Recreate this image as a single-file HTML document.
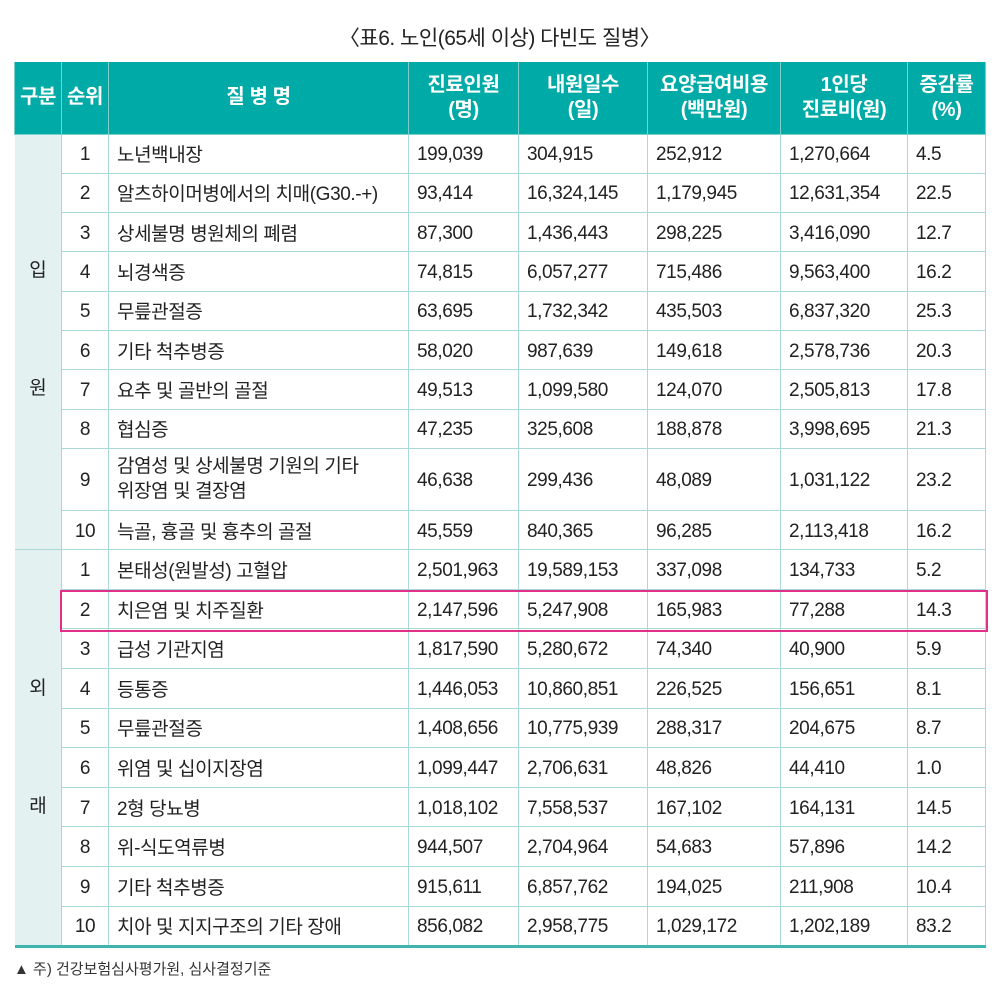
<!DOCTYPE html>
<html><head><meta charset="utf-8"><style>
body{margin:0;background:#fff;width:999px;height:988px;position:relative;overflow:hidden;font-family:"Liberation Sans","Noto Sans CJK KR",sans-serif;color:#222}
.title{position:absolute;top:22px;left:0;width:999px;text-align:center;font-size:21px;letter-spacing:-0.5px}
table{position:absolute;left:14px;top:62px;width:971px;border-collapse:collapse;table-layout:fixed;font-size:19px;letter-spacing:-0.4px}
td,th{border:1.5px solid #a9d9d6;padding:0 0 0 8px;text-align:left;white-space:nowrap;vertical-align:middle}
th{background:#00aba7;color:#fff;font-weight:bold;text-align:center;padding:0;font-size:20px;line-height:25px;border-color:#7ccfcb;border-top:none}
td.r{text-align:center;padding:3px 0 0 0}
td.g{background:#e3f1f0;text-align:center;padding:0;border-left:none;line-height:118px}
tr td:nth-last-child(-n+5){padding-top:3px}
tr.b td{height:35.3px}
tr.c td{height:35.6px}
.hl{position:absolute;left:60px;top:590px;width:924px;height:38px;border:2px solid #e0308a}
.foot{position:absolute;left:14px;top:958px;font-size:15px;color:#333}
</style></head><body>
<div class="title">〈표6. 노인(65세 이상) 다빈도 질병〉</div>
<table>
<colgroup><col style="width:47px"><col style="width:47px"><col style="width:300px"><col style="width:110px"><col style="width:129px"><col style="width:133px"><col style="width:127px"><col style="width:78px"></colgroup>
<tr style="height:72px"><th>구분</th><th>순위</th><th>질 병 명</th><th>진료인원<br>(명)</th><th>내원일수<br>(일)</th><th>요양급여비용<br>(백만원)</th><th>1인당<br>진료비(원)</th><th>증감률<br>(%)</th></tr>
<tr class="b"><td class="g" rowspan="10" style="padding-bottom:24px">입<br>원</td><td class="r">1</td><td>노년백내장</td><td>199,039</td><td>304,915</td><td>252,912</td><td>1,270,664</td><td>4.5</td></tr>
<tr class="b"><td class="r">2</td><td>알츠하이머병에서의 치매(G30.-+)</td><td>93,414</td><td>16,324,145</td><td>1,179,945</td><td>12,631,354</td><td>22.5</td></tr>
<tr class="b"><td class="r">3</td><td>상세불명 병원체의 폐렴</td><td>87,300</td><td>1,436,443</td><td>298,225</td><td>3,416,090</td><td>12.7</td></tr>
<tr class="b"><td class="r">4</td><td>뇌경색증</td><td>74,815</td><td>6,057,277</td><td>715,486</td><td>9,563,400</td><td>16.2</td></tr>
<tr class="b"><td class="r">5</td><td>무릎관절증</td><td>63,695</td><td>1,732,342</td><td>435,503</td><td>6,837,320</td><td>25.3</td></tr>
<tr class="b"><td class="r">6</td><td>기타 척추병증</td><td>58,020</td><td>987,639</td><td>149,618</td><td>2,578,736</td><td>20.3</td></tr>
<tr class="b"><td class="r">7</td><td>요추 및 골반의 골절</td><td>49,513</td><td>1,099,580</td><td>124,070</td><td>2,505,813</td><td>17.8</td></tr>
<tr class="b"><td class="r">8</td><td>협심증</td><td>47,235</td><td>325,608</td><td>188,878</td><td>3,998,695</td><td>21.3</td></tr>
<tr style="height:62px"><td class="r">9</td><td style="line-height:25px">감염성 및 상세불명 기원의 기타<br>위장염 및 결장염</td><td>46,638</td><td>299,436</td><td>48,089</td><td>1,031,122</td><td>23.2</td></tr>
<tr class="b" style="border-bottom:1.5px solid #6cc6c2"><td class="r">10</td><td>늑골, 흉골 및 흉추의 골절</td><td>45,559</td><td>840,365</td><td>96,285</td><td>2,113,418</td><td>16.2</td></tr>
<tr class="c"><td class="g" rowspan="10" style="border-top:1.5px solid #6cc6c2;border-bottom:3px solid #3fb4b0">외<br>래</td><td class="r">1</td><td>본태성(원발성) 고혈압</td><td>2,501,963</td><td>19,589,153</td><td>337,098</td><td>134,733</td><td>5.2</td></tr>
<tr class="c"><td class="r">2</td><td>치은염 및 치주질환</td><td>2,147,596</td><td>5,247,908</td><td>165,983</td><td>77,288</td><td>14.3</td></tr>
<tr class="c"><td class="r">3</td><td>급성 기관지염</td><td>1,817,590</td><td>5,280,672</td><td>74,340</td><td>40,900</td><td>5.9</td></tr>
<tr class="c"><td class="r">4</td><td>등통증</td><td>1,446,053</td><td>10,860,851</td><td>226,525</td><td>156,651</td><td>8.1</td></tr>
<tr class="c"><td class="r">5</td><td>무릎관절증</td><td>1,408,656</td><td>10,775,939</td><td>288,317</td><td>204,675</td><td>8.7</td></tr>
<tr class="c"><td class="r">6</td><td>위염 및 십이지장염</td><td>1,099,447</td><td>2,706,631</td><td>48,826</td><td>44,410</td><td>1.0</td></tr>
<tr class="c"><td class="r">7</td><td>2형 당뇨병</td><td>1,018,102</td><td>7,558,537</td><td>167,102</td><td>164,131</td><td>14.5</td></tr>
<tr class="c"><td class="r">8</td><td>위-식도역류병</td><td>944,507</td><td>2,704,964</td><td>54,683</td><td>57,896</td><td>14.2</td></tr>
<tr class="c"><td class="r">9</td><td>기타 척추병증</td><td>915,611</td><td>6,857,762</td><td>194,025</td><td>211,908</td><td>10.4</td></tr>
<tr class="c" style="border-bottom:3px solid #3fb4b0"><td class="r">10</td><td>치아 및 지지구조의 기타 장애</td><td>856,082</td><td>2,958,775</td><td>1,029,172</td><td>1,202,189</td><td>83.2</td></tr>
</table>
<div class="hl"></div>
<div class="foot">▲ 주) 건강보험심사평가원, 심사결정기준</div>
</body></html>
